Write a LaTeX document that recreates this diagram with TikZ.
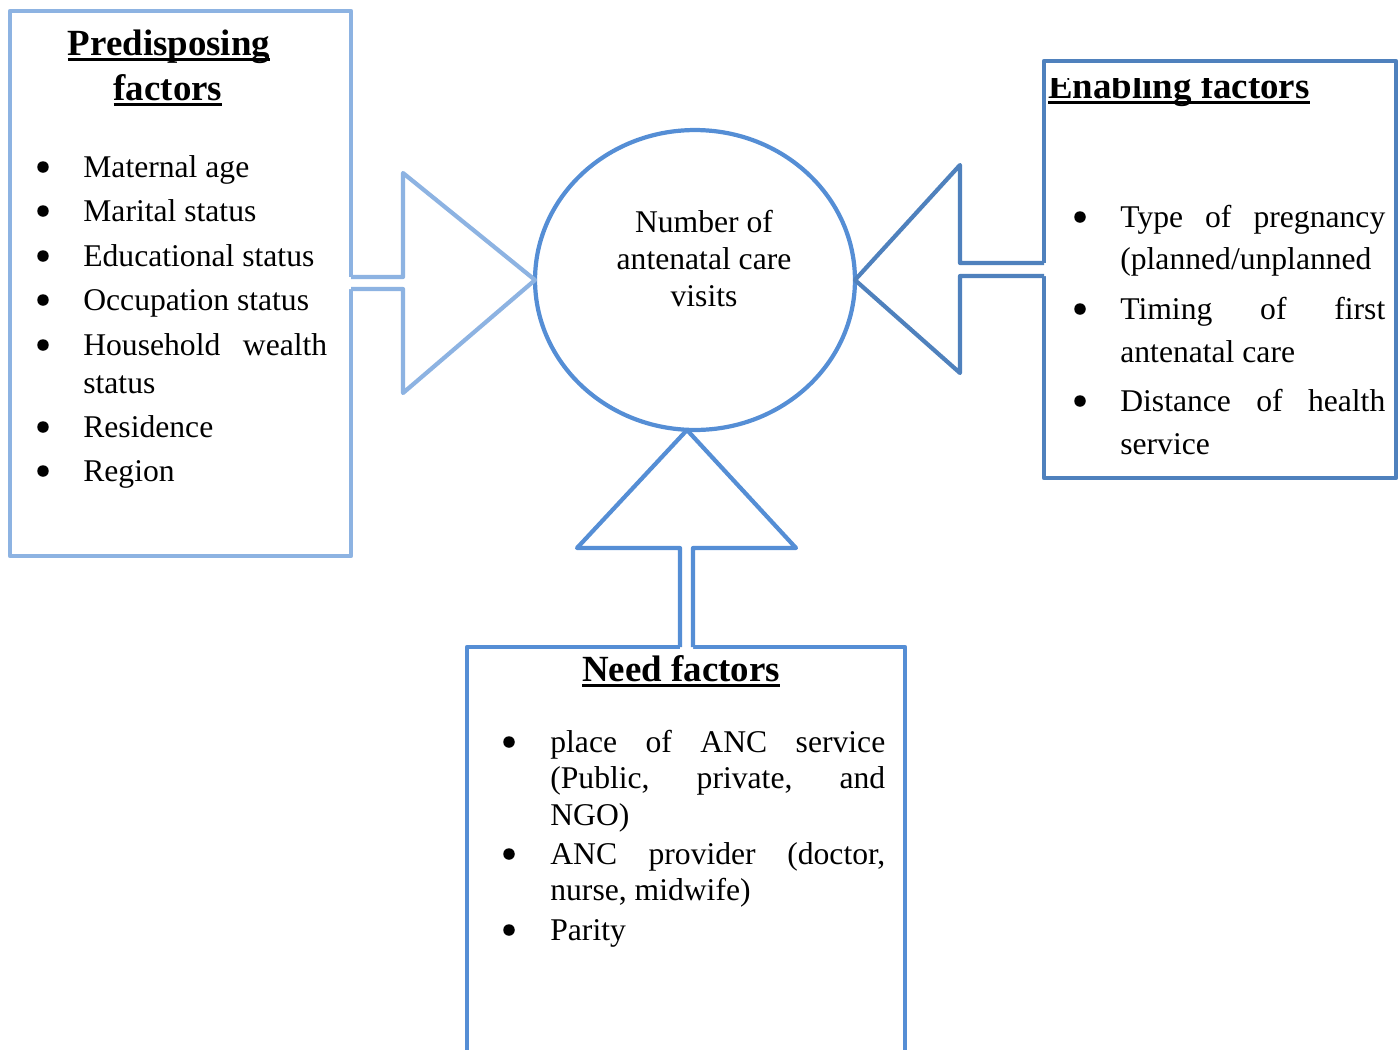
\documentclass[tikz,border=0pt]{standalone}
\usepackage{fontspec}
\setmainfont{Liberation Serif}
\usetikzlibrary{positioning,shapes.geometric}
\definecolor{predblue}{HTML}{8DB3E2}
\definecolor{visitblue}{HTML}{558ED5}
\definecolor{enabblue}{HTML}{4F81BD}
\newsavebox\headbox
\newcommand{\ulhead}[1]{\sbox\headbox{#1}\rlap{\rule[-3.4pt]{\wd\headbox}{1.7pt}}\usebox\headbox}
\tikzset{
  boxline/.style={line width=2.4pt, line join=round},
  item/.style={inner sep=0pt, anchor=base west, font=\fontsize{18}{22}\selectfont},
  head/.style={inner sep=0pt, anchor=base, font=\fontsize{21}{25}\selectfont\bfseries},
  mid/.style={inner sep=0pt, anchor=base, font=\fontsize{18}{22}\selectfont},
  bul/.style={circle, fill=black, inner sep=0pt, minimum size=0.23cm}
}

\begin{document}
\begin{tikzpicture}[x=0.02cm,y=-0.02cm]
\useasboundingbox (0,0) rectangle (1400,1049);
\node[draw=visitblue, boxline, ellipse, minimum width=6.4cm, minimum height=6cm,
  inner sep=0pt, outer sep=0pt] (visits) at (695,280) {};
\coordinate (tipb) at (687,430);
\draw[predblue, boxline] (10,11) rectangle (351,556); % Predisposing box
\draw[enabblue, boxline] (1044,61) rectangle (1396,478); % Enabling box
\draw[visitblue, boxline] (467,647) rectangle (905,1070); % Need box
%% Block arrows towards the circle.
\fill[white] (347,277) -- (403,277) -- (403,173) -- (visits.west) -- (403,393) -- (403,289) -- (347,289) -- cycle;
\draw[predblue, boxline] (351,277) -- (403,277) -- (403,173) -- (visits.west) -- (403,393) -- (403,289) -- (351,289); % left
\fill[white] (1048,263) -- (960,263) -- (960,165) -- (visits.east) -- (960,373) -- (960,276) -- (1048,276) -- cycle;
\draw[enabblue, boxline] (1044,263) -- (960,263) -- (960,165) -- (visits.east) -- (960,373) -- (960,276) -- (1044,276); % right
\fill[white] (680,651) -- (680,548) -- (577,548) -- (tipb) -- (796,548) -- (693,548) -- (693,651) -- cycle;
\draw[visitblue, boxline] (680,647) -- (680,548) -- (577,548) -- (tipb) -- (796,548) -- (693,548) -- (693,647); % bottom
%% Text in the circle.
\node[mid] (v1) at (704,232) {Number of};
\node[mid] (v2) at (704,269) {antenatal care};
\node[mid] (v3) at (704,306) {visits};
%% Predisposing factors.
\node[head] (ph1) at (169,55) {\ulhead{Predisposing}};
\node[head] (ph2) at (168,100) {\ulhead{factors}};
\foreach \yy/\txt in {177/Maternal age, 221/Marital status, 266/Educational status,
    310/Occupation status, 437/Residence, 481/Region}{
  \node[bul] at (43,\yy-10) {};
  \node[item] at (83,\yy) {\txt};
}
\node[bul] (pb5) at (43,345) {};
\node[item] (p5) at (83,355) {\makebox[4.88cm][s]{Household wealth}};
\node[item] (p5b) at (83,393) {status};
%% Enabling factors (heading cut by the box).
\begin{scope}
\clip (1040,78) rectangle (1400,120);
\node[item, font=\fontsize{21}{25}\selectfont\bfseries] (eh) at (1048,98) {\ulhead{Enabling factors}};
\end{scope}
\node[bul] (eb1) at (1080,217) {};
\node[item] (e1) at (1120,227) {\makebox[5.3cm][s]{Type of pregnancy}};
\node[item] (e1b) at (1120,269) {(planned/unplanned};
\node[bul] (eb2) at (1080,309) {};
\node[item] (e2) at (1120,319) {\makebox[5.3cm][s]{Timing of first}};
\node[item] (e2b) at (1120,362) {antenatal care};
\node[bul] (eb3) at (1080,401) {};
\node[item] (e3) at (1120,411) {\makebox[5.3cm][s]{Distance of health}};
\node[item] (e3b) at (1120,454) {service};
%% Need factors.
\node[head] (nh) at (681,681) {\ulhead{Need factors}};
\node[bul] (nb1) at (509,742) {};
\node[item] (n1) at (550,752) {\makebox[6.7cm][s]{place of ANC service}};
\node[item] (n1b) at (550,788) {\makebox[6.7cm][s]{(Public, private, and}};
\node[item] (n1c) at (550,825) {NGO)};
\node[bul] (nb2) at (509,854) {};
\node[item] (n2) at (550,864) {\makebox[6.7cm][s]{ANC provider (doctor,}};
\node[item] (n2b) at (550,900) {nurse, midwife)};
\node[bul] (nb3) at (509,930) {};
\node[item] (n3) at (550,940) {Parity};
\end{tikzpicture}
\end{document}
